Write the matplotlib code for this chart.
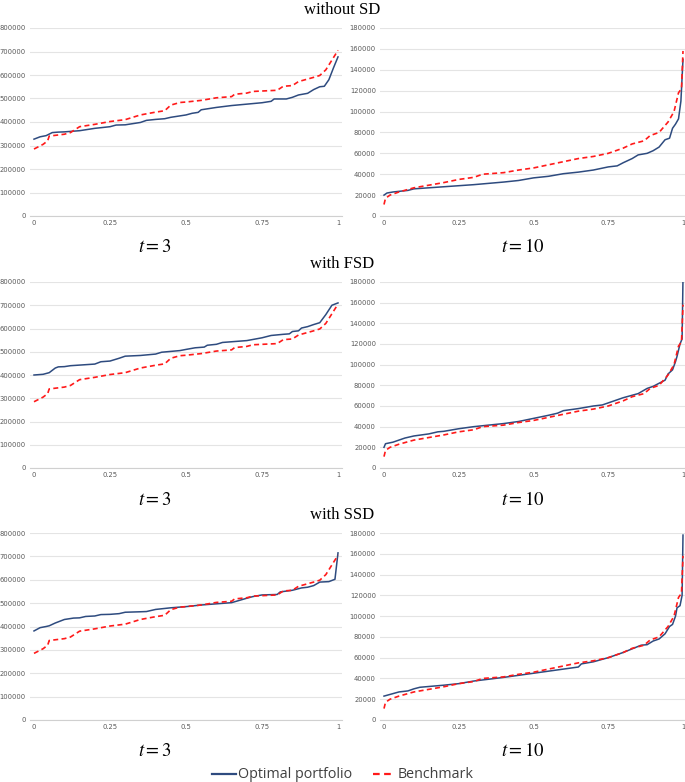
import numpy as np
import matplotlib.pyplot as plt

# ---- data (quantile level -> terminal wealth) ----
# benchmark, t = 3 (same in all three rows)
q_bench3 = [0, 0.03, 0.045, 0.05, 0.1, 0.12, 0.15, 0.2, 0.25, 0.3, 0.35, 0.4, 0.43, 0.45,
            0.48, 0.5, 0.55, 0.6, 0.65, 0.66, 0.7, 0.72, 0.8, 0.82, 0.85, 0.87, 0.92,
            0.94, 0.96, 1.0]
bench3 = [285000, 305000, 320000, 340000, 348000, 355000, 380000, 390000, 402000, 410000,
          430000, 442000, 448000, 472000, 483000, 485000, 492000, 503000, 508000, 518000,
          523000, 530000, 535000, 552000, 555000, 572000, 590000, 598000, 622000, 705000]

# benchmark, t = 10 (same in all three rows)
q_bench10 = [0, 0.005, 0.02, 0.05, 0.1, 0.2, 0.25, 0.3, 0.33, 0.4, 0.45, 0.5, 0.55, 0.6,
             0.65, 0.7, 0.75, 0.78, 0.8, 0.83, 0.85, 0.87, 0.89, 0.92, 0.95, 0.97, 0.985,
             0.995, 1.0]
bench10 = [11000, 17000, 20000, 23000, 27000, 32000, 35000, 37000, 40000, 41500, 44000,
           46000, 49000, 52000, 55000, 57000, 60000, 63000, 65000, 69000, 70500, 72000,
           77000, 80000, 90000, 100000, 118000, 122000, 158000]

# optimal portfolio, without SD
q_nosd3 = [0, 0.02, 0.04, 0.06, 0.08, 0.1, 0.15, 0.2, 0.25, 0.27, 0.3, 0.35, 0.37, 0.4,
           0.43, 0.45, 0.5, 0.52, 0.54, 0.55, 0.6, 0.65, 0.7, 0.75, 0.78, 0.79, 0.83,
           0.85, 0.87, 0.9, 0.92, 0.94, 0.955, 0.97, 0.985, 1.0]
opt_nosd3 = [327000, 337000, 342000, 355000, 357000, 358000, 363000, 373000, 380000,
             387000, 388000, 398000, 407000, 411000, 414000, 420000, 430000, 437000,
             441000, 452000, 462000, 470000, 476000, 482000, 488000, 498000, 498000,
             505000, 515000, 522000, 538000, 550000, 552000, 580000, 630000, 677000]
q_nosd10 = [0, 0.01, 0.03, 0.08, 0.1, 0.2, 0.25, 0.3, 0.4, 0.45, 0.5, 0.55, 0.6, 0.65,
            0.7, 0.75, 0.78, 0.8, 0.83, 0.85, 0.88, 0.9, 0.92, 0.94, 0.955, 0.965, 0.975,
            0.985, 0.993, 1.0]
opt_nosd10 = [20000, 22000, 23000, 24500, 26000, 28000, 29000, 30000, 32500, 34000,
              36500, 38000, 40500, 42000, 44000, 47000, 48000, 51000, 55000, 58500,
              60000, 62500, 66000, 73000, 74500, 84000, 88000, 93000, 110000, 150000]

# optimal portfolio, with FSD
q_fsd3 = [0, 0.03, 0.05, 0.07, 0.08, 0.1, 0.12, 0.2, 0.22, 0.25, 0.28, 0.3, 0.35, 0.4,
          0.42, 0.48, 0.5, 0.53, 0.56, 0.57, 0.6, 0.62, 0.7, 0.75, 0.78, 0.82, 0.84,
          0.85, 0.87, 0.88, 0.9, 0.92, 0.94, 0.96, 0.98, 1.0]
opt_fsd3 = [400000, 403000, 410000, 430000, 435000, 436000, 440000, 447000, 457000,
            460000, 472000, 481000, 484000, 490000, 498000, 505000, 510000, 517000,
            520000, 528000, 532000, 540000, 548000, 560000, 570000, 575000, 577000,
            587000, 590000, 602000, 608000, 617000, 625000, 660000, 700000, 710000]
q_fsd10 = [0, 0.005, 0.03, 0.05, 0.07, 0.1, 0.15, 0.18, 0.2, 0.25, 0.3, 0.4, 0.45, 0.5,
           0.55, 0.58, 0.6, 0.65, 0.7, 0.73, 0.75, 0.8, 0.85, 0.88, 0.9, 0.92, 0.94,
           0.95, 0.965, 0.975, 0.98, 0.99, 0.997, 1.0]
opt_fsd10 = [20000, 23500, 25000, 27000, 29000, 31000, 33000, 35000, 35500, 38000,
             40000, 43000, 45000, 48000, 51000, 53000, 55500, 57500, 60000, 61000,
             63000, 68000, 72000, 77000, 79000, 82000, 85000, 91000, 95000, 103000,
             108000, 120000, 125000, 184000]

# optimal portfolio, with SSD
q_ssd3 = [0, 0.02, 0.04, 0.05, 0.07, 0.1, 0.13, 0.15, 0.17, 0.2, 0.22, 0.25, 0.28, 0.3,
          0.35, 0.37, 0.4, 0.45, 0.5, 0.55, 0.6, 0.65, 0.7, 0.72, 0.75, 0.8, 0.81, 0.85,
          0.88, 0.9, 0.92, 0.94, 0.97, 0.99, 1.0]
opt_ssd3 = [381000, 395000, 400000, 403000, 415000, 430000, 436000, 437000, 443000,
            445000, 451000, 452000, 455000, 461000, 463000, 464000, 473000, 480000,
            485000, 492000, 497000, 502000, 521000, 528000, 535000, 537000, 548000,
            555000, 565000, 568000, 575000, 590000, 592000, 602000, 715000]
q_ssd10 = [0, 0.05, 0.08, 0.1, 0.12, 0.2, 0.25, 0.3, 0.4, 0.5, 0.6, 0.65, 0.66, 0.7,
           0.75, 0.8, 0.83, 0.86, 0.88, 0.9, 0.92, 0.94, 0.955, 0.965, 0.975, 0.98,
           0.99, 0.997, 1.0]
opt_ssd10 = [23000, 27000, 28000, 30000, 31500, 33500, 35000, 37500, 41000, 45000,
             49000, 51000, 54000, 56000, 60000, 65000, 68500, 72000, 72500, 76000,
             78000, 83000, 90000, 92000, 100000, 108000, 110000, 120000, 178000]

row_titles = ["without SD", "with FSD", "with SSD"]
opt_rows = [((q_nosd3, opt_nosd3), (q_nosd10, opt_nosd10)),
            ((q_fsd3, opt_fsd3), (q_fsd10, opt_fsd10)),
            ((q_ssd3, opt_ssd3), (q_ssd10, opt_ssd10))]
xticks = [0, 0.25, 0.5, 0.75, 1]
xtick_labels = ["0", "0.25", "0.5", "0.75", "1"]

W, H = 685, 782
BLUE = "#2e4b7f"
RED = "#ff1a1a"
GRID = "#e4e4e4"
TICK = "#595959"

plt.rcParams['mathtext.fontset'] = 'stix'
fig = plt.figure(figsize=(W / 100, H / 100), dpi=100)

# (top px, bottom px) for each row's plot area
rows_px = [(28, 216), (282, 468), (533, 720)]


def px_axes(x0, x1, y0, y1):
    return fig.add_axes([x0 / W, 1 - y1 / H, (x1 - x0) / W, (y1 - y0) / H])


def style(ax, ymax, step, xl):
    ax.set_ylim(0, ymax)
    ax.set_xlim(*xl)
    ax.set_yticks(np.arange(0, ymax + 1, step))
    ax.set_yticklabels([str(int(v)) for v in np.arange(0, ymax + 1, step)])
    ax.set_xticks(xticks)
    ax.set_xticklabels(xtick_labels)
    ax.grid(axis='y', color=GRID, lw=0.8)
    ax.set_axisbelow(True)
    for s in ['top', 'right', 'left']:
        ax.spines[s].set_visible(False)
    ax.spines['bottom'].set_color("#d0d0d0")
    ax.spines['bottom'].set_linewidth(0.8)
    ax.tick_params(length=0, labelsize=4.9, labelcolor=TICK, pad=3,
                   labelfontfamily='DejaVu Sans')


for r, (top, bot) in enumerate(rows_px):
    (q3, o3), (q10, o10) = opt_rows[r]

    axl = px_axes(30, 342, top, bot)
    axl.plot(q3, o3, color=BLUE, lw=1.1)
    axl.plot(q_bench3, bench3, color=RED, lw=1.2, ls=(0, (3, 2)))
    style(axl, 800000, 100000, (-4 / 304, 1 + 4 / 304))

    axr = px_axes(380, 685, top, bot)
    axr.plot(q10, o10, color=BLUE, lw=1.1)
    axr.plot(q_bench10, bench10, color=RED, lw=1.2, ls=(0, (3, 2)))
    style(axr, 180000, 20000, (-4 / 299, 1 + 2 / 299))

    fig.text(342 / W, 1 - (top - 18) / H, row_titles[r], ha='center', va='center',
             fontsize=12, family='Liberation Serif')
    fig.text(155 / W, 1 - (bot + 31) / H, "$t = 3$", ha='center', va='center', fontsize=13.5)
    fig.text(523 / W, 1 - (bot + 31) / H, "$t = 10$", ha='center', va='center', fontsize=13.5)

# legend
leg_y = 1 - 774 / H
fig.add_artist(plt.Line2D([212 / W, 236 / W], [leg_y, leg_y], color=BLUE, lw=1.6))
fig.text(238 / W, leg_y, "Optimal portfolio", va='center', ha='left', fontsize=10.3,
         color="#404040", family='Open Sans')
fig.add_artist(plt.Line2D([373 / W, 393 / W], [leg_y, leg_y], color=RED, lw=1.6,
                          ls=(0, (3, 2))))
fig.text(398 / W, leg_y, "Benchmark", va='center', ha='left', fontsize=10.3,
         color="#404040", family='Open Sans')

fig.savefig("out.png", dpi=100)
